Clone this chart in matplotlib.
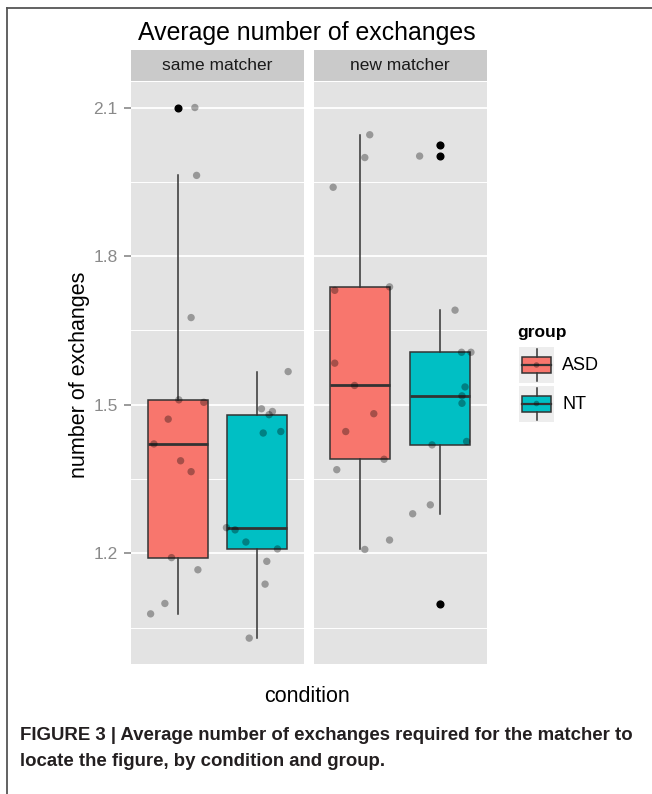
import matplotlib
matplotlib.use("Agg")
import matplotlib.pyplot as plt
from matplotlib.lines import Line2D
from matplotlib.patches import Rectangle
import numpy as np

plt.rcParams['font.family'] = ['Liberation Sans', 'DejaVu Sans']

# ---------------- data ----------------
conditions = ["same matcher", "new matcher"]
groups = ["ASD", "NT"]
group_colors = ["#F8766D", "#00BFC4"]

same_asd = [2.100, 1.963, 1.676, 1.510, 1.505, 1.471, 1.421, 1.387, 1.365, 1.1915, 1.167, 1.099, 1.078]
same_asd_jitter = [0.118, 0.130, 0.092, 0.007, 0.180, -0.067, -0.166, 0.019, 0.092, -0.044, 0.139, -0.090, -0.189]
same_nt = [1.567, 1.492, 1.4865, 1.480, 1.443, 1.446, 1.252, 1.2475, 1.223, 1.209, 1.184, 1.138, 1.029]
same_nt_jitter = [0.215, 0.030, 0.106, 0.083, 0.042, 0.164, -0.213, -0.153, -0.078, 0.141, 0.067, 0.055, -0.055]
new_asd = [2.045, 1.999, 1.939, 1.731, 1.738, 1.584, 1.539, 1.482, 1.446, 1.390, 1.369, 1.208, 1.227]
new_asd_jitter = [0.064, 0.030, -0.189, -0.178, 0.201, -0.178, -0.041, 0.092, -0.102, 0.163, -0.164, 0.030, 0.201]
new_nt = [2.024, 2.002, 1.691, 1.606, 1.606, 1.536, 1.518, 1.503, 1.426, 1.419, 1.298, 1.280, 1.098]
new_nt_jitter = [0.000, -0.141, 0.104, 0.149, 0.214, 0.173, 0.152, 0.152, 0.184, -0.055, -0.067, -0.189, 0.000]

panel_data = [[same_asd, same_nt], [new_asd, new_nt]]
panel_jitter = [[same_asd_jitter, same_nt_jitter], [new_asd_jitter, new_nt_jitter]]

y_ticks = [1.2, 1.5, 1.8, 2.1]
y_tick_labels = ["1.2", "1.5", "1.8", "2.1"]
y_minor = [1.05, 1.35, 1.65, 1.95]

title = "Average number of exchanges"
x_label = "condition"
y_label = "number of exchanges"
legend_title = "group"
caption_lines = ["FIGURE 3 | Average number of exchanges required for the matcher to",
                 "locate the figure, by condition and group."]

# ---------------- layout ----------------
W, H = 652, 794
fig = plt.figure(figsize=(W / 100, H / 100), dpi=100)
fig.patch.set_facecolor("white")

def fx(px):
    return px / W

def fy(py):
    return 1 - py / H

panel_bg = "#E3E3E3"
strip_bg = "#CACACA"
edge = "#333333"
dodge = 0.275
box_w = 0.415

panels_px = [(131, 304), (313.5, 487)]
top_px, bot_px = 81.5, 664
strip_top = 50

for i, (x0, x1) in enumerate(panels_px):
    ax = fig.add_axes([fx(x0), fy(bot_px), (x1 - x0) / W, (bot_px - top_px) / H])
    ax.set_facecolor(panel_bg)
    for s in ax.spines.values():
        s.set_visible(False)
    ax.set_xlim(0.4, 1.6)
    ax.set_ylim(0.9768, 2.1525)
    ax.set_yticks(y_ticks)
    ax.set_yticks(y_minor, minor=True)
    ax.grid(True, which="major", axis="y", color="white", lw=1.3)
    ax.grid(True, which="minor", axis="y", color="white", lw=0.7)
    ax.set_axisbelow(True)
    ax.set_xticks([])
    ax.tick_params(axis="y", which="minor", length=0)
    if i == 0:
        ax.set_yticklabels(y_tick_labels)
        ax.tick_params(axis="y", which="major", length=5, width=1.1, color="#7F7F7F",
                       labelcolor="#8A8A8A", labelsize=12.5, pad=4.5)
    else:
        ax.tick_params(axis="y", which="major", length=0, labelleft=False)

    positions = [1 - dodge, 1 + dodge]
    bp = ax.boxplot(panel_data[i], positions=positions, widths=box_w, patch_artist=True,
                    whis=1.5, showcaps=False, manage_ticks=False,
                    boxprops=dict(edgecolor=edge, linewidth=1.1),
                    medianprops=dict(color=edge, linewidth=2.0),
                    whiskerprops=dict(color=edge, linewidth=1.1),
                    flierprops=dict(marker="o", markerfacecolor="black", markeredgecolor="black",
                                    markersize=4.8))
    for patch, c in zip(bp["boxes"], group_colors):
        patch.set_facecolor(c)
    for g in range(2):
        xs = positions[g] + np.array(panel_jitter[i][g])
        ax.scatter(xs, panel_data[i][g], s=28, color="black", alpha=0.33,
                   edgecolors="none", zorder=5)

    # strip
    sax = fig.add_axes([fx(x0), fy(top_px - 0.5), (x1 - x0) / W, (top_px - 0.5 - strip_top) / H])
    sax.set_facecolor(strip_bg)
    sax.set_xticks([])
    sax.set_yticks([])
    for s in sax.spines.values():
        s.set_visible(False)
    sax.text(0.5, 0.5, conditions[i], ha="center", va="center", fontsize=12.5,
             color="#1A1A1A", transform=sax.transAxes)

# titles and axis labels
fig.text(fx(307), fy(33), title, ha="center", va="center", fontsize=17.9, color="black")
fig.text(fx(79), fy(374.5), y_label, ha="center", va="center", rotation=90, fontsize=15.5, color="black")
fig.text(fx(307), fy(697), x_label, ha="center", va="center", fontsize=15.5, color="black")

# legend (drawn in a pixel-coordinate axes)
lax = fig.add_axes([fx(505), fy(430), 110 / W, 115 / H])
lax.set_xlim(505, 615)
lax.set_ylim(430, 315)
lax.axis("off")
lax.text(517, 333, legend_title, ha="left", va="center", fontsize=12.5, fontweight="bold")
key_centers = [365, 403.5]
for yc, c, lab in zip(key_centers, group_colors, groups):
    lax.add_patch(Rectangle((519, yc - 18), 35, 36, facecolor="#EDEDED", edgecolor="none"))
    lax.plot([536.5, 536.5], [yc - 16, yc - 8], color=edge, lw=1.1)
    lax.plot([536.5, 536.5], [yc + 8, yc + 16], color=edge, lw=1.1)
    lax.add_patch(Rectangle((522, yc - 8), 29, 16, facecolor=c, edgecolor=edge, lw=1.1))
    lax.plot([522, 551], [yc, yc], color=edge, lw=1.6)
    lax.scatter([536.5], [yc], s=16, color="black", alpha=0.33, edgecolors="none", zorder=5)
    lax.text(562, yc + 1, lab, ha="left", va="center", fontsize=13)

# frame around the figure panel
fig.add_artist(Line2D([fx(7), fx(7)], [0, fy(8)], color="#555555", lw=1.3))
fig.add_artist(Line2D([fx(7), 1], [fy(8), fy(8)], color="#555555", lw=1.3))

# caption
cap_font = ['Liberation Sans', 'DejaVu Sans']
fig.text(fx(20), fy(736), caption_lines[0], ha="left", va="center", fontsize=13.4,
         fontweight="bold", family=cap_font, color="#231F20")
fig.text(fx(20), fy(761), caption_lines[1], ha="left", va="center", fontsize=13.4,
         fontweight="bold", family=cap_font, color="#231F20")

fig.savefig("out.png", dpi=100)
